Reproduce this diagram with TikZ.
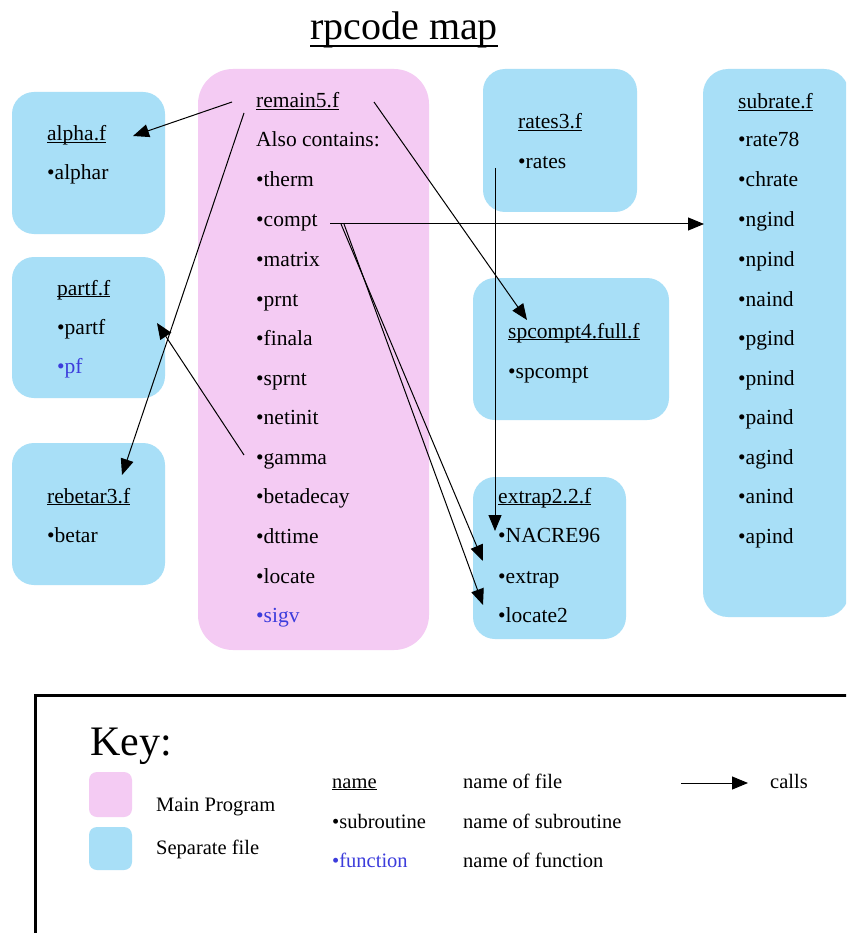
\documentclass[tikz,border=0pt]{standalone}
\usepackage{fontspec}
\setmainfont{Liberation Serif}
\usetikzlibrary{arrows.meta}
\definecolor{boxblue}{RGB}{168,223,247}
\definecolor{boxpink}{RGB}{244,203,243}
\definecolor{fnblue}{RGB}{60,60,220}
\newcommand\fileul[1]{\setbox0\hbox{#1}\rlap{\rule[-2pt]{\wd0}{1.1pt}}\box0}
\begin{document}
\begin{tikzpicture}[x=1pt,y=-1pt,
  txt/.style={anchor=base west, inner sep=0pt, font=\fontsize{21.5}{24}\selectfont},
  fn/.style={txt, text=fnblue},
  keytxt/.style={anchor=base west, inner sep=0pt, font=\fontsize{20.5}{24}\selectfont},
  bluebox/.style={fill=boxblue, rounded corners=22pt},
  pinkbox/.style={fill=boxpink, rounded corners=35pt},
  call/.style={-{Triangle[length=16pt,width=13pt]}, line width=1pt}]
\useasboundingbox (0,0) rectangle (846,933);
\clip (0,0) rectangle (846,933);
\fill[white] (0,0) rectangle (846,933);
% title
\node[anchor=base west, inner sep=0pt, font=\fontsize{40}{44}\selectfont] (title) at (310,40) {\setbox0\hbox{rpcode map}\rlap{\rule[-7pt]{\wd0}{2pt}}\box0};
% boxes
\fill[bluebox] (12,92) rectangle (165,234);
\fill[bluebox] (12,257) rectangle (165,398);
\fill[bluebox] (12,443) rectangle (165,585);
\fill[pinkbox] (198,69) rectangle (429,650);
\fill[bluebox] (483,69) rectangle (637,212);
\fill[bluebox] (473,278) rectangle (669,420);
\fill[bluebox] (473,477) rectangle (626,639);
\fill[bluebox, rounded corners=25pt] (703,69) rectangle (849,617);
% alpha.f
\node[txt] (alphaT) at (47,141) {\fileul{alpha.f}};
\node[txt] (alphar) at (47,180) {•alphar};
% partf.f
\node[txt] (partfT) at (57,295) {\fileul{partf.f}};
\node[txt] (partf) at (57,334) {•partf};
\node[fn] (pf) at (57,373) {•pf};
% rebetar3.f
\node[txt] (rebetarT) at (47,503) {\fileul{rebetar3.f}};
\node[txt] (betar) at (47,542) {•betar};
% remain5.f
\node[txt] (remainT) at (256,108) {\fileul{remain5.f}};
\node[txt] (also) at (256,147) {Also contains:};
\node[txt] (therm) at (256,187) {•therm};
\node[txt] (compt) at (256,226) {•compt};
\node[txt] (matrix) at (256,266) {•matrix};
\node[txt] (prnt) at (256,306) {•prnt};
\node[txt] (finala) at (256,345) {•finala};
\node[txt] (sprnt) at (256,385) {•sprnt};
\node[txt] (netinit) at (256,424) {•netinit};
\node[txt] (gamma) at (256,464) {•gamma};
\node[txt] (betadecay) at (256,503) {•betadecay};
\node[txt] (dttime) at (256,543) {•dttime};
\node[txt] (locate) at (256,583) {•locate};
\node[fn] (sigv) at (256,622) {•sigv};
% rates3.f
\node[txt] (ratesT) at (518,129) {\fileul{rates3.f}};
\node[txt] (rates) at (518,169) {•rates};
% spcompt4.full.f
\node[txt] (spT) at (508,338) {\fileul{spcompt4.full.f}};
\node[txt] (spcompt) at (508,378) {•spcompt};
% extrap2.2.f
\node[txt] (exT) at (498,503) {\fileul{extrap2.2.f}};
\node[txt] (nacre) at (498,542) {•NACRE96};
\node[txt] (extrap) at (498,583) {•extrap};
\node[txt] (locate2) at (498,622) {•locate2};
% subrate.f
\node[txt] (subT) at (738,109) {\fileul{subrate.f}};
\node[txt] (rate78) at (738,147) {•rate78};
\node[txt] (chrate) at (738,187) {•chrate};
\node[txt] (ngind) at (738,226) {•ngind};
\node[txt] (npind) at (738,266) {•npind};
\node[txt] (naind) at (738,306) {•naind};
\node[txt] (pgind) at (738,345) {•pgind};
\node[txt] (pnind) at (738,385) {•pnind};
\node[txt] (paind) at (738,424) {•paind};
\node[txt] (agind) at (738,464) {•agind};
\node[txt] (anind) at (738,503) {•anind};
\node[txt] (apind) at (738,543) {•apind};
% connector end points
\coordinate (r5a) at (232,102);
\coordinate (alphaIn) at (133,136);
\coordinate (r5b) at (244,113);
\coordinate (rebIn) at (122,475);
\coordinate (gamOut) at (244,455);
\coordinate (partfIn) at (157,323);
\coordinate (r5c) at (374,102);
\coordinate (spIn) at (527,320);
\coordinate (comptOut) at (330,224);
\coordinate (subIn) at (704,224);
\coordinate (ratesOut) at (495,168);
\coordinate (nacreIn) at (495,531);
\coordinate (comptA) at (341,224);
\coordinate (extrapIn) at (483,561);
\coordinate (comptB) at (344,224);
\coordinate (locIn) at (483,605);
% connectors
\draw[call] (r5a) -- (alphaIn);
\draw[call] (r5b) -- (rebIn);
\draw[call] (gamOut) -- (partfIn);
\draw[call] (r5c) -- (spIn);
\draw[call] (comptOut) -- (subIn);
\draw[call] (ratesOut) -- (nacreIn);
\draw[call] (comptA) -- (extrapIn);
\draw[call] (comptB) -- (locIn);
% key
\draw[line width=3pt] (35,955) -- (35,695) -- (870,695);
\node[anchor=base west, inner sep=0pt, font=\fontsize{42}{46}\selectfont] (key) at (90,755) {Key:};
\fill[boxpink, rounded corners=8pt] (89,772) rectangle (132,817);
\fill[boxblue, rounded corners=8pt] (89,827) rectangle (132,870);
\node[keytxt] (kmain) at (156,811) {Main Program};
\node[keytxt] (ksep) at (156,854) {Separate file};
\node[keytxt] (kname) at (332,788) {\fileul{name}};
\node[keytxt] (ksub) at (332,828) {•subroutine};
\node[keytxt, text=fnblue] (kfun) at (332,867) {•function};
\node[keytxt] (kfile) at (463,788) {name of file};
\node[keytxt] (ksubd) at (463,828) {name of subroutine};
\node[keytxt] (kfund) at (463,867) {name of function};
\coordinate (karrS) at (681,783);
\coordinate (karrE) at (748,783);
\draw[call] (karrS) -- (karrE);
\node[keytxt] (kcalls) at (770,788) {calls};
\end{tikzpicture}
\end{document}
